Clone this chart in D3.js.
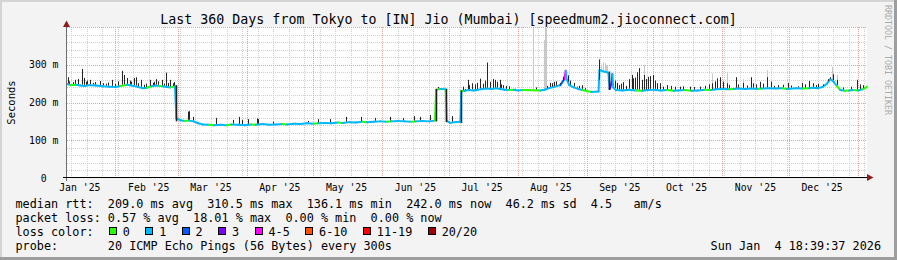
<!DOCTYPE html>
<html><head><meta charset="utf-8">
<script src="https://cdn.jsdelivr.net/npm/d3@7"></script>
<style>
html,body{margin:0;padding:0;background:#f3f3f3;}
svg{display:block;}
text{font-family:"DejaVu Sans Mono",monospace;white-space:pre;}
</style></head><body>
<svg id="c" width="897" height="260"></svg>
<script>
// ---------------- data ----------------
const title = "Last 360 Days from Tokyo to [IN] Jio (Mumbai) [speedmum2.jioconnect.com]";
const yAxisTitle = "Seconds";
const watermark = "RRDTOOL / TOBI OETIKER";
const yTickValues = [0, 100, 200, 300];
const yTickLabels = ["0  ", "100 m", "200 m", "300 m"];
const monthFormat = "%b '%y";
const rangeDays = 360;

// median rtt breakpoints: day offset from start, value (ms), loss category of following segment
const medDays = [0,1.5,4,6,8,10,13,16,19,22,24,27,30,32,34,36,38,40,41.5,43,45,46.5,48.6,
  49.2,51,53,55,57,59,61,64,66,69,72,74,77,80,83,85,88,91,94,97,99,102,105,108,111,113,116,119,122,124,127,130,133,135,138,141,144,146,149,152,155,157,160,163,165.6,
  166.1,168,170.4,170.9,172.5,174.5,177,
  177.4,179,181,183,185,187,189,191,193,195,197,199,201,203,205,213,215,217,219,222,223.8,224.4,224.8,226,228,230,232,234,236,239.2,
  239.6,241,242.5,243.6,244.2,245,245.4,245.8,247,250,253,256,259,261,264,267,270,273,275,278,281,284,287,290,292,295,298,300,302,305,308,311,312.5,316,319,322,324,328,331,334,335.5,338,340,342,343.5,345,346.5,348,350,352,354,356,358,359,360];
const medValues = [249,246,247,245,244,246,245,243,242,241,244,247,244,241,238,239,243,245,244,243,241,240,243,
  158,153,151,152,150,145,142,141,140,141,140,142,141,140,142,141,143,141,142,143,142,144,143,145,144,145,146,145,147,146,148,147,149,148,149,150,149,150,151,150,149,150,151,150,152,
  234,236,235,151,146,148,149,
  230,231,233,232,234,236,237,236,238,236,234,233,234,232,233,232,234,238,241,246,262,284,262,246,240,236,233,230,228,229,
  286,283,281,279,236,250,275,240,233,232,234,232,231,233,234,232,233,231,232,233,231,232,234,233,235,236,235,236,237,236,237,236,237,238,237,238,236,238,237,238,239,238,241,250,262,255,243,233,231,232,233,232,235,238,242];
const medLoss = [1,0,1,1,1,1,1,1,1,1,0,1,1,1,1,0,1,1,0,1,1,0,1,
  1,1,0,1,1,1,1,0,1,1,0,1,1,1,0,1,1,1,1,0,1,1,1,1,0,1,1,1,0,1,1,1,0,1,1,1,0,1,1,1,0,1,1,1,0,
  0,1,0,1,1,1,1,
  0,1,1,1,1,1,1,1,1,1,1,0,1,1,0,1,1,1,1,2,4,1,1,1,1,1,0,0,1,
  1,1,1,1,1,3,3,1,1,1,1,1,0,1,1,1,1,0,1,1,0,1,1,0,1,1,1,0,1,1,1,1,0,1,1,1,0,1,1,0,1,1,1,1,1,1,1,0,1,0,1,0,1,0,0];

// smoke spikes above the median: day, top value (ms), shade (0 dark, 1 light)
const spikeDays = [0.45,3.6,5.0,6.6,7.65,10.35,14.85,20.25,24.75,25.65,27,30.15,31.05,33.3,37.35,40.05,42.75,44.55,46.35,48.15,
  54.45,54.9,56.6,67.05,74.7,77.4,78.6,81.45,85.35,85.95,92.7,102.6,108.45,112.95,118.35,125.55,132.3,138.6,145.35,151.2,156.15,158.85,163.35,166.95,173.25,
  179.1,180.6,182.1,185.85,189.1,190.35,192.6,193.6,194.85,196.3,218.1,219.15,221.85,229.4,231.6,233.1,239.4,
  247.4,250.1,254.1,254.85,257.5,258.6,259.8,261.6,263.6,265.4,266.85,269.9,273.6,275.85,280.35,284.85,
  290.1,292.35,293.85,295.35,296.85,300.9,304.35,307.65,308.85,311.85,314.85,316.65,320.1,324.6,330.6,334.05,335.85,338.1,341.85,343.35,344.7,346.35,355.35,358.35,
  1,2.5,8.5,9.2,11.5,12.5,16,17.5,18.5,21.5,23,28.5,29,32,34.5,35.5,38.5,39.2,41,43.5,45.5,47.5,
  178,181,183.5,184.5,187,188,191.5,195.5,197.5,199,
  211,216,217.5,220,223,225.5,226.5,228,230.5,
  246.5,248.5,249.5,251.5,253,255.5,256.5,260.5,262.5,264.5,
  268,272,277,282,287,289,291.5,298,302,306,310,313,318,322,326,329,332,337,340,342.5,349,353,357,
  201.6,209.85,214.65,215.1,215.55,240.2,241.2,242.0,242.55,243.2,259.8,290.1,296.85,304.35,314.85,344.1,346.35];
const spikeTops = [267,260,262,289,265,260,257,260,284,273,265,265,267,260,260,262,260,279,260,254,
  176,177,162,159,154,162,154,156,158,156,149,146,151,156,156,162,162,159,162,159,164,162,167,241,164,
  236,260,251,263,306,255,260,255,260,246,251,255,251,242,246,238,314,
  252,254,273,264,291,260,273,268,273,251,251,246,242,242,242,242,
  251,264,267,255,251,267,252,267,251,255,267,255,246,252,252,257,251,249,252,267,275,260,260,246,
  256,254,255,258,252,254,251,250,253,249,256,258,255,251,247,250,252,255,256,250,252,251,
  242,246,248,252,250,258,262,248,244,243,
  240,244,252,256,268,272,258,252,244,
  258,246,250,244,262,266,280,262,270,258,
  242,244,243,241,244,248,256,246,248,245,248,250,244,247,245,243,248,246,248,262,240,242,248,
  240,397,365,397,397,300,307,304,299,296,299,277,278,262,286,295,273];
const spikeShades = [0,0,0,0,0,0,0,0,0,0,0,0,0,0,0,0,0,0,0,0,
  0,0,0,0,0,0,0,0,0,0,0,0,0,0,0,0,0,0,0,0,0,0,0,0,0,
  0,0,0,0,0,0,0,0,0,0,0,0,0,0,0,0,0,
  0,0,0,0,0,0,0,0,0,0,0,0,0,0,0,0,
  0,0,0,0,0,0,0,0,0,0,0,0,0,0,0,0,0,0,0,0,0,0,0,0,
  0,0,0,0,0,0,0,0,0,0,0,0,0,0,0,0,0,0,0,0,0,0,
  0,0,0,0,0,0,0,0,0,0,
  0,0,0,0,0,0,0,0,0,
  0,0,0,0,0,0,0,0,0,0,
  0,0,0,0,0,0,0,0,0,0,0,0,0,0,0,0,0,0,0,0,0,0,0,
  1,1,1,1,1,1,1,1,1,1,1,1,1,1,1,1,1];

// level changes of the median (dark transitions): day, low, high (ms)
const stepDays = [49.0,166.0,170.7,177.2,244.0];
const stepLows = [150,150,148,146,233];
const stepHighs = [246,236,236,232,282];

const lossLabels = ["0","1","2","3","4-5","6-10","11-19","20/20"];
const lossColors = ["#26ff00","#00b8ff","#0059ff","#7e00ff","#ff00ff","#ff5500","#ff0000","#a10000"];

const statsRtt  = "median rtt:  209.0 ms avg  310.5 ms max  136.1 ms min  242.0 ms now  46.2 ms sd  4.5   am/s";
const statsLoss = "packet loss: 0.57 % avg  18.01 % max  0.00 % min  0.00 % now";
const lossTitle = "loss color:";
const probeLine = "probe:       20 ICMP Echo Pings (56 Bytes) every 300s";
const stampLine = "Sun Jan  4 18:39:37 2026";

// ---------------- layout ----------------
const W = 897, H = 260;
const L = 67, R = 867, T = 27, B = 178;
const DAY = 864e5;
const t0 = Date.UTC(2025, 0, 10, 5, 0, 0);
const t1 = t0 + rangeDays * DAY;
const svg = d3.select("#c");

const x = d3.scaleUtc().domain([new Date(t0), new Date(t1)]).range([L, R]);
const y = d3.scaleLinear().domain([0, 400]).range([B, T]);
const xd = d => x(new Date(t0 + d * DAY));
const medAt = d3.scaleLinear().domain(medDays).range(medValues);
const crisp = v => Math.round(v) + 0.5;

// background and frame
svg.append("rect").attr("width", W).attr("height", H).attr("fill", "#f3f3f3");
svg.append("rect").attr("x", 0).attr("y", 0).attr("width", W).attr("height", 2).attr("fill", "#d4d4d4");
svg.append("rect").attr("x", 0).attr("y", 0).attr("width", 2).attr("height", H).attr("fill", "#d4d4d4");
svg.append("rect").attr("x", 0).attr("y", H - 3).attr("width", W).attr("height", 3).attr("fill", "#9e9e9e");
svg.append("rect").attr("x", W - 3).attr("y", 0).attr("width", 3).attr("height", H).attr("fill", "#9e9e9e");

// canvas
svg.append("rect").attr("x", L).attr("y", T).attr("width", R - L).attr("height", B - T).attr("fill", "#ffffff");

const grid = svg.append("g");
const minorY = d3.range(20, 401, 20).filter(v => v % 100 !== 0);
grid.selectAll(".hy").data(minorY).join("line")
  .attr("x1", L).attr("x2", R).attr("y1", d => crisp(y(d))).attr("y2", d => crisp(y(d)))
  .attr("stroke", "#cfcfcf").attr("stroke-dasharray", "1,1");
const weeks = d3.utcSunday.range(new Date(t0), new Date(t1));
grid.selectAll(".wx").data(weeks).join("line")
  .attr("x1", d => crisp(x(d))).attr("x2", d => crisp(x(d))).attr("y1", T).attr("y2", B)
  .attr("stroke", "#cfcfcf").attr("stroke-dasharray", "1,1");
const months = d3.utcMonth.range(new Date(t0), new Date(t1));
grid.selectAll(".mx").data(months).join("line")
  .attr("x1", d => crisp(x(d))).attr("x2", d => crisp(x(d))).attr("y1", T).attr("y2", B)
  .attr("stroke", "#e6a3a3").attr("stroke-dasharray", "1,1");
grid.selectAll(".my").data(yTickValues.filter(v => v > 0).concat([400])).join("line")
  .attr("x1", L).attr("x2", R).attr("y1", d => crisp(y(d))).attr("y2", d => crisp(y(d)))
  .attr("stroke", "#e6a3a3").attr("stroke-dasharray", "1,1");

// light smoke
const spikeIdx = d3.range(spikeDays.length);
const plot = svg.append("g");
plot.selectAll(".ls").data(spikeIdx.filter(i => spikeShades[i] === 1)).join("line")
  .attr("x1", i => crisp(xd(spikeDays[i]))).attr("x2", i => crisp(xd(spikeDays[i])))
  .attr("y1", i => y(medAt(spikeDays[i]))).attr("y2", i => y(Math.min(spikeTops[i], 397)))
  .attr("stroke", "#c8c8c8").attr("stroke-width", 1);

// median line coloured by loss
const segs = d3.range(medDays.length - 1);
plot.selectAll(".seg").data(segs).join("line")
  .attr("x1", i => xd(medDays[i])).attr("y1", i => y(medValues[i]))
  .attr("x2", i => xd(medDays[i + 1])).attr("y2", i => y(medValues[i + 1]))
  .attr("stroke", i => lossColors[medLoss[i]]).attr("stroke-width", 2).attr("stroke-linecap", "round");

// dark smoke
plot.selectAll(".ds").data(spikeIdx.filter(i => spikeShades[i] === 0)).join("line")
  .attr("x1", i => crisp(xd(spikeDays[i]))).attr("x2", i => crisp(xd(spikeDays[i])))
  .attr("y1", i => y(medAt(spikeDays[i])) - 1).attr("y2", i => y(spikeTops[i]))
  .attr("stroke", "#262626").attr("stroke-width", 1);
plot.selectAll(".st").data(d3.range(stepDays.length)).join("line")
  .attr("x1", i => crisp(xd(stepDays[i]))).attr("x2", i => crisp(xd(stepDays[i])))
  .attr("y1", i => y(stepLows[i])).attr("y2", i => y(stepHighs[i]))
  .attr("stroke", "#1e1e1e").attr("stroke-width", 1.5);

// axes
svg.append("line").attr("x1", crisp(L) - 1).attr("x2", crisp(L) - 1).attr("y1", B + 3).attr("y2", T - 1)
  .attr("stroke", "#6e6e6e").attr("stroke-width", 1);
svg.append("line").attr("x1", L - 4).attr("x2", R + 1).attr("y1", crisp(B) - 1).attr("y2", crisp(B) - 1)
  .attr("stroke", "#000").attr("stroke-width", 1);
svg.append("path").attr("d", `M${L - 0.5},${T - 6.5} L${L + 3},${T} L${L - 4},${T} Z`).attr("fill", "#8f1d1d");
svg.append("path").attr("d", `M${R + 6.5},${B - 0.5} L${R},${B - 4} L${R},${B + 3} Z`).attr("fill", "#8f1d1d");

// axis labels
const fmt = d3.utcFormat(monthFormat);
const monthLabels = d3.utcMonth.range(d3.utcMonth.floor(new Date(t0)), new Date(t1))
  .filter(m => +m + 15 * DAY < t1);
svg.selectAll(".xl").data(monthLabels).join("text")
  .attr("x", d => x(new Date(+d + 15 * DAY))).attr("y", 190.5)
  .attr("text-anchor", "middle").attr("font-size", "9.8px").attr("fill", "#000").text(d => fmt(d));
svg.selectAll(".yl").data(yTickValues).join("text")
  .attr("x", 58.5).attr("y", d => y(d) + 3.5)
  .attr("text-anchor", "end").attr("font-size", "9.8px").attr("fill", "#000")
  .text((d, i) => yTickLabels[i]);
svg.append("text").attr("transform", `translate(14.5,${(T + B) / 2}) rotate(-90)`)
  .attr("text-anchor", "middle").attr("font-size", "10.5px").attr("fill", "#000").text(yAxisTitle);
svg.append("text").attr("transform", "translate(884.5,5) rotate(90)")
  .attr("font-size", "8.3px").attr("fill", "#ababab").text(watermark);

// title
svg.append("text").attr("x", 448.5).attr("y", 24).attr("text-anchor", "middle")
  .attr("font-size", "13.3px").attr("fill", "#000").text(title);

// legend
const lf = "11.8px";
const pitch = 7.11;
svg.append("text").attr("x", 15.5).attr("y", 207.5).attr("font-size", lf).text(statsRtt);
svg.append("text").attr("x", 15.5).attr("y", 221.7).attr("font-size", lf).text(statsLoss);
svg.append("text").attr("x", 15.5).attr("y", 235.7).attr("font-size", lf).text(lossTitle);
svg.append("text").attr("x", 15.5).attr("y", 250).attr("font-size", lf).text(probeLine);
svg.append("text").attr("x", 881).attr("y", 250).attr("text-anchor", "end").attr("font-size", lf).text(stampLine);

let cur = 109;
lossLabels.forEach((lab, i) => {
  svg.append("rect").attr("x", Math.round(cur) + 0.5).attr("y", 227.5).attr("width", 7).attr("height", 7)
    .attr("fill", lossColors[i]).attr("stroke", "#000").attr("stroke-width", 1);
  const lx = cur + 13.8;
  svg.append("text").attr("x", lx).attr("y", 235.7).attr("font-size", lf).text(lab);
  cur = lx + lab.length * pitch + 15.5;
});
</script>
</body></html>
